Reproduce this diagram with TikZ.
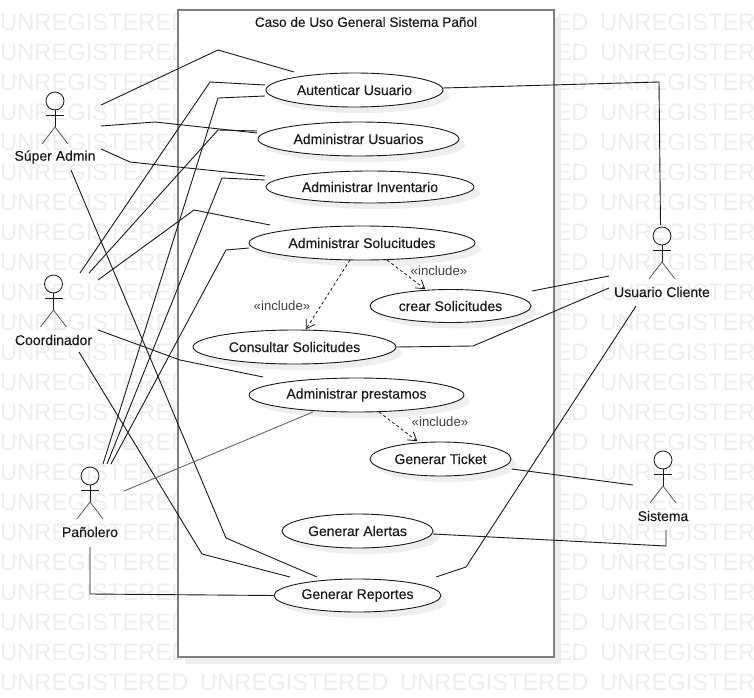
\documentclass[tikz,border=0pt]{standalone}
\usepackage{fontspec}
\setmainfont{Liberation Sans}
\newfontfamily\lblfont[FakeBold=0.2]{Liberation Sans}
\usetikzlibrary{shapes.geometric,shadows,arrows.meta}
\definecolor{wmgrey}{HTML}{EEEEEE}
\definecolor{shgrey}{HTML}{EEEEEE}
\definecolor{framegrey}{HTML}{7F7F7F}
\definecolor{inkline}{HTML}{1A1A1A}
\tikzset{
  usecase/.style={ellipse,draw=inkline,line width=0.9bp,fill=white,inner sep=0pt,
    font=\lblfont\fontsize{14bp}{16bp}\selectfont,text=inkline,
    copy shadow={shadow xshift=6bp,shadow yshift=-6bp,draw=none,fill=shgrey}},
  actorlabel/.style={inner sep=0pt,font=\lblfont\fontsize{14bp}{16bp}\selectfont,text=inkline},
  sysframe/.style={rectangle,draw=framegrey,line width=2bp,fill=white,inner sep=0pt,
    minimum width=376bp,minimum height=647bp,
    copy shadow={shadow xshift=7bp,shadow yshift=-7bp,draw=none,fill=shgrey}},
  watermark/.style={anchor=west,inner sep=0pt,text=wmgrey,font=\fontsize{23.7bp}{26bp}\selectfont},
  assoc/.style={draw=inkline,line width=0.9bp},
  assocgrey/.style={draw=black!60,line width=0.9bp},
  incl/.style={draw=inkline,line width=0.8bp,dashed,dash pattern=on 3bp off 2.5bp,
    -{Straight Barb[length=8bp,width=10bp,line width=0.8bp,round]}},
  incllabel/.style={inner sep=0pt,text=black!75,font=\fontsize{13.2bp}{15bp}\selectfont},
  titlelabel/.style={inner sep=0pt,text=inkline,font=\lblfont\fontsize{13.6bp}{16bp}\selectfont},
  stick/.style={draw=inkline,line width=0.8bp},
}
% #1 x, #2 label y (actor figure above its label)
\newcommand{\stickman}[2]{%
  \draw[stick] (#1,#2-56) circle[radius=9];
  \draw[stick] (#1-9,#2-41.5) -- (#1+9,#2-41.5);
  \draw[stick] (#1,#2-47) -- (#1,#2-30);
  \draw[stick,draw=black!65] (#1-13,#2-13) -- (#1,#2-30) -- (#1+13,#2-13);
}
\begin{document}
\begin{tikzpicture}[x=1bp,y=-1bp]
\path[use as bounding box] (0,0) rectangle (754,698);
\clip (0,0) rectangle (754,698);
\fill[white] (0,0) rectangle (754,698);
% watermark
\foreach \r in {0,...,22}{
  \foreach \c in {0,...,3}{
    \node[watermark] (wm-\r-\c) at ({0+200*\c},{22+30*\r}) {UNREGISTERED};
  }
}
% system boundary
\node[sysframe] (sys) at (366,333.75) {};
\node[titlelabel] (title) at (366,22) {Caso de Uso General Sistema Pañol};
% use cases
\node[usecase,minimum width=177bp,minimum height=34bp] (auth) at (354.5,90) {Autenticar Usuario};
\node[usecase,minimum width=201bp,minimum height=34bp] (users) at (358.5,139) {Administrar Usuarios};
\node[usecase,minimum width=208bp,minimum height=32bp] (inv) at (370,187) {Administrar Inventario};
\node[usecase,minimum width=226bp,minimum height=34bp] (sol) at (362,243) {Administrar Solucitudes};
\node[usecase,minimum width=161bp,minimum height=33bp] (crear) at (450.5,306) {crear Solicitudes};
\node[usecase,minimum width=203bp,minimum height=34bp] (cons) at (294.5,347) {Consultar Solicitudes};
\node[usecase,minimum width=215bp,minimum height=34bp] (prest) at (356.5,395) {Administrar prestamos};
\node[usecase,minimum width=141bp,minimum height=34bp] (tick) at (440.5,459) {Generar Ticket};
\node[usecase,minimum width=151bp,minimum height=34bp] (alert) at (357.5,531) {Generar Alertas};
\node[usecase,minimum width=167bp,minimum height=33bp] (rep) at (357.5,595.5) {Generar Reportes};
% actors
\node[actorlabel] (sa) at (55,157) {Súper Admin};
\node[actorlabel] (co) at (53.5,340) {Coordinador};
\node[actorlabel] (pa) at (90,532) {Pañolero};
\node[actorlabel] (uc) at (662,292) {Usuario Cliente};
\node[actorlabel] (si) at (663,516) {Sistema};
\stickman{55}{157}
\stickman{53.5}{340}
\stickman{90}{532}
\stickman{662}{292}
\stickman{663}{516}
% associations
\draw[assoc] ([shift={(46,-52)}]sa.center) -- (218,50) -- ([shift={(-60.5,-18)}]auth.center);
\draw[assoc] ([shift={(46,-31)}]sa.center) -- (155,122) -- ([shift={(-101.5,-6)}]users.center);
\draw[assoc] ([shift={(46,-8)}]sa.center) -- (130,162) -- ([shift={(-105,-11)}]inv.center);
\draw[assoc] ([shift={(16,13)}]sa.center) -- (226,538) -- ([shift={(-40.5,-18.5)}]rep.center);
\draw[assoc] ([shift={(26.5,-67)}]co.center) -- (210,82) -- ([shift={(-89.5,-5)}]auth.center);
\draw[assoc] ([shift={(35.5,-67)}]co.center) -- (218,130) -- ([shift={(-101.5,-8)}]users.center);
\draw[assoc] ([shift={(44.5,-60)}]co.center) -- (194,210) -- ([shift={(-92,-18)}]sol.center);
\draw[assoc] ([shift={(44.5,-10)}]co.center) -- (180,360) -- ([shift={(-93.5,-18)}]prest.center);
\draw[assoc] ([shift={(25.5,12)}]co.center) -- (202,554) -- ([shift={(-67.5,-18.5)}]rep.center);
\draw[assoc] ([shift={(13,-68)}]pa.center) -- (218,98) -- ([shift={(-89.5,6)}]auth.center);
\draw[assoc] ([shift={(17,-68)}]pa.center) -- (222,178) -- ([shift={(-105,-7)}]inv.center);
\draw[assoc] ([shift={(21,-68)}]pa.center) -- (226,250) -- ([shift={(-113,5)}]sol.center);
\draw[assocgrey] ([shift={(34,-41)}]pa.center) -- ([shift={(-43.5,17)}]prest.center);
\draw[assoc] ([shift={(0,15)}]pa.center) -- (90,594) -- (rep.west);
\draw[assoc] ([shift={(-1.5,-67)}]uc.center) -- (659,82) -- ([shift={(88.5,-2)}]auth.center);
\draw[assoc] ([shift={(-53,-16)}]uc.center) -- ([shift={(81.5,-15)}]crear.center);
\draw[assoc] ([shift={(-53,-4)}]uc.center) -- (473,346) -- (cons.east);
\draw[assoc] ([shift={(-26,14)}]uc.center) -- (466,567) -- ([shift={(78.5,-18.5)}]rep.center);
\draw[assoc] ([shift={(-30,-31)}]si.center) -- ([shift={(71.5,10)}]tick.center);
\draw[assoc] ([shift={(3,14)}]si.center) -- (666,546) -- ([shift={(75.5,3)}]alert.center);
% includes
\draw[incl] ([shift={(-12,17)}]sol.center) -- ([shift={(11.5,-18)}]cons.center);
\draw[incl] ([shift={(25,17)}]sol.center) -- ([shift={(-25.5,-17)}]crear.center);
\draw[incl] ([shift={(22.5,17)}]prest.center) -- ([shift={(-23.5,-18)}]tick.center);
\node[incllabel] (il1) at (439,271) {«include»};
\node[incllabel] (il2) at (282,306) {«include»};
\node[incllabel] (il3) at (440,422) {«include»};
\end{tikzpicture}
\end{document}
